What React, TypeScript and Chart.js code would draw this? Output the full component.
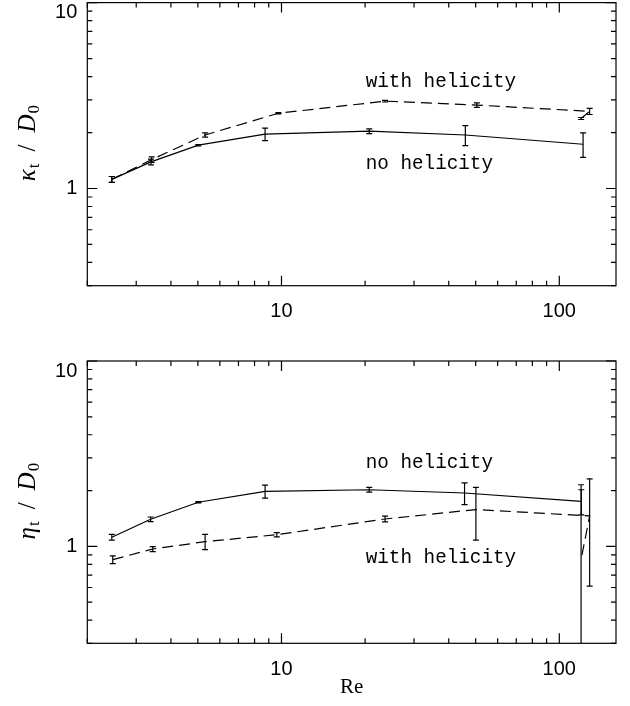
import React, { useEffect, useRef } from "react";
import { Chart, registerables } from "chart.js";

Chart.register(...registerables);

// ---------- axes ----------
const reMin = 2;
const reMax = 160;
const yMin = 0.3;
const yMax = 10;
const reTicks = [2, 3, 4, 5, 6, 7, 8, 9, 10, 20, 30, 40, 50, 60, 70, 80, 90, 100];
const reTickLabels = [10, 100];
const yTicks = [0.3, 0.4, 0.5, 0.6, 0.7, 0.8, 0.9, 1, 2, 3, 4, 5, 6, 7, 8, 9, 10];
const yTickLabels = [1, 10];

// ---------- top panel: kappa_t / D_0 ----------
const reKappaNoHel = [2.45, 3.39, 5.02, 8.73, 20.7, 45.9, 121.8];
const kappaNoHel = [1.12, 1.39, 1.71, 1.96, 2.035, 1.94, 1.73];
const kappaNoHelErr = [0.04, 0.05, 0.015, 0.15, 0.06, 0.24, 0.26];

const reKappaHel = [2.45, 3.41, 5.31, 9.75, 23.6, 50.5, 128.6, 119.8];
const kappaHel = [1.12, 1.43, 1.94, 2.54, 2.95, 2.81, 2.6, 2.38];
const kappaHelErr = [0.04, 0.05, 0.05, 0.02, 0.03, 0.08, 0.1, 0.03];

// ---------- bottom panel: eta_t / D_0 ----------
const reEtaNoHel = [2.45, 3.38, 5.02, 8.73, 20.7, 45.6, 120.0];
const etaNoHel = [1.12, 1.4, 1.73, 1.98, 2.02, 1.94, 1.75];
const etaNoHelErr = [0.04, 0.04, 0.015, 0.16, 0.06, 0.26, 0.27];

const reEtaHel = [2.47, 3.44, 5.31, 9.62, 23.6, 50.1, 128.6, 119.8];
const etaHel = [0.848, 0.968, 1.06, 1.156, 1.405, 1.58, 1.46, 0.85];
const etaHelErr = [0.04, 0.03, 0.1, 0.03, 0.05, 0.5, 0.85, 1.3];

// ---------- annotations (data coordinates: Re, value at text baseline) ----------
const topNotes = [
  { text: "with helicity", re: 20.1, v: 3.52 },
  { text: "no helicity", re: 20.1, v: 1.28 },
];
const bottomNotes = [
  { text: "no helicity", re: 20.1, v: 2.66 },
  { text: "with helicity", re: 20.1, v: 0.814 },
];

const SERIF = '"Liberation Serif", "DejaVu Serif", serif';
const MONO = '"Liberation Mono", "DejaVu Sans Mono", monospace';
const SANS = '"Liberation Sans", "DejaVu Sans", sans-serif';

const toPoints = (xs: number[], ys: number[]) => xs.map((x, i) => ({ x, y: ys[i] }));

const decorPlugin = {
  id: "decor",
  afterDatasetsDraw(chart: any) {
    const { ctx, chartArea: a } = chart;
    const xs = chart.scales.x;
    const ys = chart.scales.y;
    ctx.save();
    ctx.beginPath();
    ctx.rect(a.left, a.top, a.right - a.left, a.bottom - a.top);
    ctx.clip();
    ctx.strokeStyle = "#000";
    ctx.lineWidth = 1.2;
    ctx.setLineDash([]);
    chart.data.datasets.forEach((ds: any) => {
      const errs: number[] | undefined = ds.errors;
      if (!errs) return;
      ds.data.forEach((pt: any, i: number) => {
        const e = errs[i];
        const px = xs.getPixelForValue(pt.x);
        const hi = ys.getPixelForValue(pt.y + e);
        const loV = pt.y - e;
        const lo = loV > 0 ? ys.getPixelForValue(loV) : a.bottom + 5;
        ctx.beginPath();
        ctx.moveTo(px, hi);
        ctx.lineTo(px, lo);
        ctx.moveTo(px - 3, hi);
        ctx.lineTo(px + 3, hi);
        if (loV > 0) {
          ctx.moveTo(px - 3, lo);
          ctx.lineTo(px + 3, lo);
        }
        ctx.stroke();
      });
    });
    ctx.restore();
  },
  afterDraw(chart: any, _args: any, opts: any) {
    const { ctx, chartArea: a } = chart;
    const xs = chart.scales.x;
    const ys = chart.scales.y;
    ctx.save();
    ctx.strokeStyle = "#000";
    ctx.lineWidth = 1.2;
    ctx.setLineDash([]);
    // frame
    ctx.strokeRect(a.left, a.top, a.right - a.left, a.bottom - a.top);
    // inward ticks on all four sides
    ctx.beginPath();
    xs.ticks.forEach((t: any) => {
      const px = xs.getPixelForValue(t.value);
      const len = reTickLabels.includes(t.value) ? 10 : 5;
      ctx.moveTo(px, a.bottom);
      ctx.lineTo(px, a.bottom - len);
      ctx.moveTo(px, a.top);
      ctx.lineTo(px, a.top + len);
    });
    ys.ticks.forEach((t: any) => {
      const py = ys.getPixelForValue(t.value);
      const len = yTickLabels.includes(t.value) ? 10 : 5;
      ctx.moveTo(a.left, py);
      ctx.lineTo(a.left + len, py);
      ctx.moveTo(a.right, py);
      ctx.lineTo(a.right - len, py);
    });
    ctx.stroke();

    // y-axis title with sub-scripts, rotated
    const parts = [
      { t: opts.symbol, font: `italic 25px ${SERIF}`, dy: 0, gap: 1 },
      { t: "t", font: `17px ${SERIF}`, dy: 4, gap: 12 },
      { t: "/", font: `25px ${SERIF}`, dy: 0, gap: 12 },
      { t: "D", font: `italic 25px ${SERIF}`, dy: 0, gap: 1 },
      { t: "0", font: `17px ${SERIF}`, dy: 4, gap: 0 },
    ];
    let total = 0;
    const widths = parts.map((p) => {
      ctx.font = p.font;
      const w = ctx.measureText(p.t).width;
      total += w + p.gap;
      return w;
    });
    const cy = (a.top + a.bottom) / 2 - 1;
    ctx.translate(35, cy);
    ctx.rotate(-Math.PI / 2);
    ctx.fillStyle = "#000";
    ctx.textBaseline = "alphabetic";
    ctx.textAlign = "left";
    let u = -total / 2;
    parts.forEach((p, i) => {
      ctx.font = p.font;
      ctx.fillText(p.t, u, p.dy);
      u += widths[i] + p.gap;
    });
    ctx.setTransform(1, 0, 0, 1, 0, 0);
    ctx.restore();

    // curve annotations
    ctx.save();
    ctx.fillStyle = "#000";
    ctx.font = `19.3px ${MONO}`;
    ctx.textAlign = "left";
    ctx.textBaseline = "alphabetic";
    (opts.notes || []).forEach((n: any) => {
      ctx.fillText(n.text, xs.getPixelForValue(n.re), ys.getPixelForValue(n.v));
    });
    ctx.restore();
  },
};

interface PanelSpec {
  symbol: string;
  reA: number[];
  vA: number[];
  eA: number[];
  reB: number[];
  vB: number[];
  eB: number[];
  notes: { text: string; re: number; v: number }[];
  padTop: number;
  xAxisHeight: number;
  showTitle: boolean;
}

function buildConfig(p: PanelSpec): any {
  return {
    type: "scatter",
    data: {
      datasets: [
        {
          label: "no helicity",
          data: toPoints(p.reA, p.vA),
          errors: p.eA,
          showLine: true,
          borderColor: "#000",
          borderWidth: 1.2,
          pointRadius: 0,
          fill: false,
        },
        {
          label: "with helicity",
          data: toPoints(p.reB, p.vB),
          errors: p.eB,
          showLine: true,
          borderColor: "#000",
          borderWidth: 1.2,
          borderDash: [11, 6],
          pointRadius: 0,
          fill: false,
        },
      ],
    },
    options: {
      animation: false,
      responsive: false,
      maintainAspectRatio: false,
      devicePixelRatio: 1,
      events: [],
      layout: { padding: { left: 0, right: 14, top: p.padTop, bottom: 0 } },
      plugins: {
        legend: { display: false },
        tooltip: { enabled: false },
        decor: { symbol: p.symbol, notes: p.notes },
      },
      scales: {
        x: {
          type: "logarithmic",
          position: "bottom",
          min: reMin,
          max: reMax,
          afterBuildTicks: (s: any) => {
            s.ticks = reTicks.map((v) => ({ value: v, major: false }));
          },
          afterFit: (s: any) => {
            s.height = p.xAxisHeight;
            s.paddingLeft = 0;
            s.paddingRight = 0;
            s.paddingTop = 0;
            s.paddingBottom = 0;
          },
          grid: { display: false, drawTicks: false },
          border: { display: false },
          ticks: {
            autoSkip: false,
            maxRotation: 0,
            minRotation: 0,
            padding: 14,
            color: "#000",
            font: { family: SANS, size: 20 },
            callback: (v: any) => (reTickLabels.includes(Number(v)) ? String(v) : ""),
          },
          title: {
            display: p.showTitle,
            text: "Re",
            color: "#000",
            font: { family: SERIF, size: 21 },
            padding: { top: 0, bottom: 6 },
          },
        },
        y: {
          type: "logarithmic",
          position: "left",
          min: yMin,
          max: yMax,
          afterBuildTicks: (s: any) => {
            s.ticks = yTicks.map((v) => ({ value: v, major: false }));
          },
          afterFit: (s: any) => {
            s.width = 87.3;
            s.paddingLeft = 0;
            s.paddingRight = 0;
            s.paddingTop = 0;
            s.paddingBottom = 0;
          },
          grid: { display: false, drawTicks: false },
          border: { display: false },
          ticks: {
            autoSkip: false,
            padding: 10,
            color: "#000",
            font: { family: SANS, size: 20, lineHeight: 1.0 },
            callback: (v: any) => {
              const n = Number(v);
              if (n === 10) return ["", "10"];
              if (n === 1) return "1";
              return "";
            },
          },
        },
      },
    },
    plugins: [decorPlugin],
  };
}

const topSpec: PanelSpec = {
  symbol: "κ",
  reA: reKappaNoHel,
  vA: kappaNoHel,
  eA: kappaNoHelErr,
  reB: reKappaHel,
  vB: kappaHel,
  eB: kappaHelErr,
  notes: topNotes,
  padTop: 2.6,
  xAxisHeight: 353 - 285.7,
  showTitle: false,
};

const bottomSpec: PanelSpec = {
  symbol: "η",
  reA: reEtaNoHel,
  vA: etaNoHel,
  eA: etaNoHelErr,
  reB: reEtaHel,
  vB: etaHel,
  eB: etaHelErr,
  notes: bottomNotes,
  padTop: 8,
  xAxisHeight: 353 - 290.3,
  showTitle: true,
};

export default function App() {
  const topRef = useRef<HTMLCanvasElement>(null);
  const botRef = useRef<HTMLCanvasElement>(null);
  useEffect(() => {
    const c1 = new Chart(topRef.current as HTMLCanvasElement, buildConfig(topSpec));
    const c2 = new Chart(botRef.current as HTMLCanvasElement, buildConfig(bottomSpec));
    return () => {
      c1.destroy();
      c2.destroy();
    };
  }, []);
  return (
    <div style={{ position: "absolute", left: 0, top: 0, width: 630, height: 706, background: "#fff" }}>
      <canvas
        ref={topRef}
        width={630}
        height={353}
        style={{ position: "absolute", left: 0, top: 0, width: 630, height: 353 }}
      />
      <canvas
        ref={botRef}
        width={630}
        height={353}
        style={{ position: "absolute", left: 0, top: 353, width: 630, height: 353 }}
      />
    </div>
  );
}
